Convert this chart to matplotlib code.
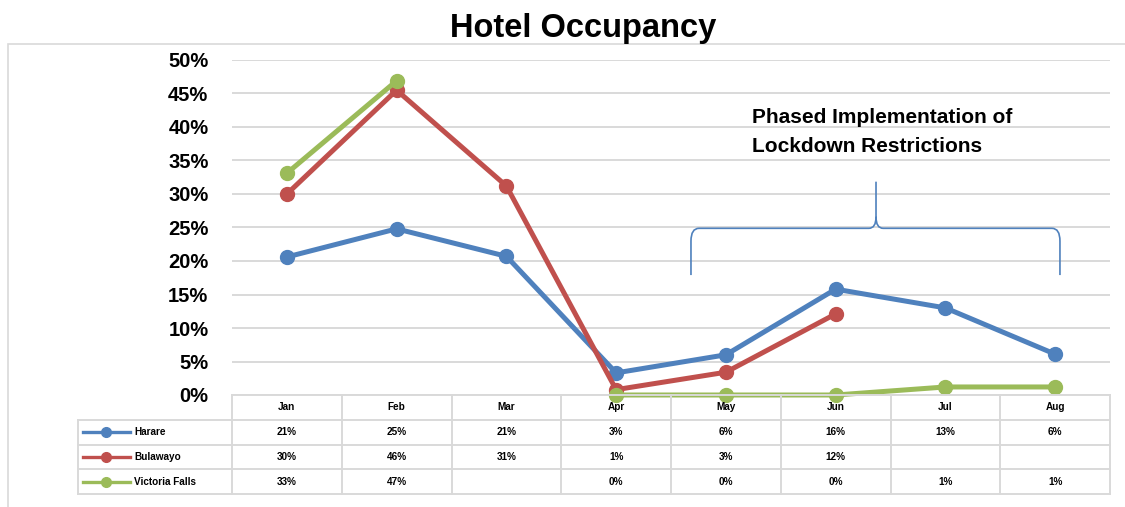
import numpy as np
import matplotlib.pyplot as plt
from matplotlib.path import Path
from matplotlib.patches import PathPatch
from matplotlib.lines import Line2D

months = ['Jan', 'Feb', 'Mar', 'Apr', 'May', 'Jun', 'Jul', 'Aug']
series_names = ['Harare', 'Bulawayo', 'Victoria Falls']
harare = [20.6, 24.8, 20.7, 3.3, 6.0, 15.8, 13.0, 6.1]
bulawayo = [30.0, 45.5, 31.2, 0.8, 3.4, 12.1, np.nan, np.nan]
victoria_falls = [33.1, 46.9, np.nan, 0.0, 0.0, 0.0, 1.2, 1.2]
colors = ['#4F81BD', '#C0504D', '#9BBB59']

plt.rcParams['font.family'] = ['Liberation Sans', 'DejaVu Sans']

W, H = 1125, 507
fig = plt.figure(figsize=(W / 100, H / 100), dpi=100)


def px_box(x0, y0, x1, y1):
    # pixel box (top-left origin) -> figure fraction rect
    return [x0 / W, 1 - y1 / H, (x1 - x0) / W, (y1 - y0) / H]


# outer chart border
border = plt.Rectangle((8 / W, -0.1), 1.2, 1 - 44 / H + 0.1, transform=fig.transFigure,
                       fill=False, edgecolor='#d9d9d9', lw=1.2)
fig.patches.append(border)

fig.text(583 / W, 1 - 37.5 / H, 'Hotel Occupancy', ha='center', va='baseline',
         fontsize=23.5, fontweight='bold')

ax = fig.add_axes(px_box(232, 60, 1110, 395))
x = np.arange(len(months))
all_series = [harare, bulawayo, victoria_falls]
for vals, c in zip(all_series, colors):
    ax.plot(x, vals, color=c, lw=3.6, marker='o', markersize=10, solid_capstyle='round',
            zorder=3, clip_on=False)

ax.set_xlim(-0.5, len(months) - 0.5)
ax.set_ylim(0, 50)
ax.set_yticks(np.arange(0, 51, 5))
ax.set_yticklabels([f'{v}%' for v in range(0, 51, 5)], fontsize=14.5, fontweight='bold')
ax.set_xticks([])
ax.tick_params(axis='y', length=0, pad=17)
ax.grid(axis='y', color='#d9d9d9', lw=1.4)
ax.set_axisbelow(True)
for s in ax.spines.values():
    s.set_visible(False)

# annotation: bracket and text
bx0, bx1, bxm = 3.682, 7.044, 5.368
yb, yh, yp = 17.9, 24.88, 31.84
rx, ry = 0.073, 1.9
px_, py_ = 0.065, 1.7
verts = [(bx0, yb), (bx0, yh - ry), (bx0, yh), (bx0 + rx, yh),
         (bxm - px_, yh), (bxm, yh), (bxm, yh + py_), (bxm, yp),
         (bxm, yh + py_), (bxm, yh), (bxm + px_, yh),
         (bx1 - rx, yh), (bx1, yh), (bx1, yh - ry), (bx1, yb)]
codes = [Path.MOVETO, Path.LINETO, Path.CURVE3, Path.CURVE3,
         Path.LINETO, Path.CURVE3, Path.CURVE3, Path.LINETO,
         Path.MOVETO, Path.CURVE3, Path.CURVE3,
         Path.LINETO, Path.CURVE3, Path.CURVE3, Path.LINETO]
ax.add_patch(PathPatch(Path(verts, codes), fill=False, edgecolor='#4F81BD', lw=1.2, zorder=2))
ax.text(4.238, 40.55, 'Phased Implementation of', fontsize=15, fontweight='bold',
        ha='left', va='baseline')
ax.text(4.238, 36.3, 'Lockdown Restrictions', fontsize=15, fontweight='bold',
        ha='left', va='baseline')

# data table below the chart
unit = (1110 - 232) / len(months)
left_u = -0.5 - (232 - 78) / unit
tab = fig.add_axes(px_box(78, 395, 1110, 494))
tab.set_xlim(left_u, len(months) - 0.5)
tab.set_ylim(4, 0)
tab.axis('off')
gc = '#d9d9d9'
# horizontal lines
tab.plot([-0.5, len(months) - 0.5], [0, 0], color=gc, lw=1.4, clip_on=False)
for yy in [1, 2, 3, 4]:
    tab.plot([left_u, len(months) - 0.5], [yy, yy], color=gc, lw=1.4, clip_on=False)
# vertical lines
tab.plot([left_u, left_u], [1, 4], color=gc, lw=1.4, clip_on=False)
for i in range(len(months) + 1):
    tab.plot([i - 0.5, i - 0.5], [0, 4], color=gc, lw=1.4, clip_on=False)

fs = 7.2
for i, m in enumerate(months):
    tab.text(i, 0.5, m, ha='center', va='center', fontsize=fs, fontweight='bold')
for r_i, (name, vals, c) in enumerate(zip(series_names, all_series, colors)):
    yy = r_i + 1.5
    tab.add_line(Line2D([left_u + 0.045, left_u + 0.474], [yy, yy], color=c, lw=2.4))
    tab.plot([left_u + 0.255], [yy], 'o', color=c, markersize=7)
    tab.text(left_u + 0.51, yy, name, ha='left', va='center', fontsize=fs, fontweight='bold')
    for i, v in enumerate(vals):
        if not np.isnan(v):
            tab.text(i, yy, f'{v:.0f}%', ha='center', va='center', fontsize=fs,
                     fontweight='bold')

fig.savefig('out.png', dpi=100)
